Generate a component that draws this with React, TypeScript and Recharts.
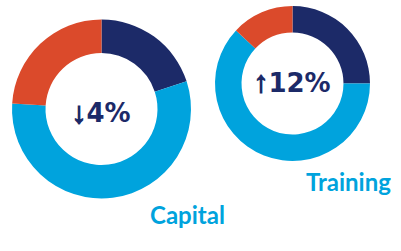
import { PieChart, Pie, Cell, Customized } from 'recharts'

const capitalShares = [20, 56, 24]
const trainingShares = [25, 62, 13]
const sliceNames = ['Navy', 'Blue', 'Red']
const COLORS = ['#1C2A68', '#00A3DD', '#DB4A2B']

const capitalChange = { arrow: '↓', value: '4%', label: 'Capital' }
const trainingChange = { arrow: '↑', value: '12%', label: 'Training' }

const NAVY = '#1C2A68'
const BLUE = '#00A3DD'

const capitalData = sliceNames.map((name, i) => ({ name, value: capitalShares[i] }))
const trainingData = sliceNames.map((name, i) => ({ name, value: trainingShares[i] }))

function Texts() {
  return (
    <g>
      <text x={101} y={122} textAnchor="middle" fill={NAVY} fontFamily="'DejaVu Sans', sans-serif" fontWeight={700} fontSize={26}>
        <tspan fontFamily="'Liberation Sans', sans-serif" fontSize={30} stroke={NAVY} strokeWidth={1.3} dy={1}>
          {capitalChange.arrow}
        </tspan>
        <tspan dy={-1}>{capitalChange.value}</tspan>
      </text>
      <text x={292} y={92} textAnchor="middle" fill={NAVY} fontFamily="'DejaVu Sans', sans-serif" fontWeight={700} fontSize={26}>
        <tspan fontFamily="'Liberation Sans', sans-serif" fontSize={30} stroke={NAVY} strokeWidth={1.3}>
          {trainingChange.arrow}
        </tspan>
        <tspan>{trainingChange.value}</tspan>
      </text>
      <text x={150} y={224} fill={BLUE} fontFamily="Lato, sans-serif" fontWeight={700} fontSize={24}>
        {capitalChange.label}
      </text>
      <text x={306} y={191} fill={BLUE} fontFamily="Lato, sans-serif" fontWeight={700} fontSize={24}>
        {trainingChange.label}
      </text>
    </g>
  )
}

export default function App() {
  return (
    <div style={{ position: 'absolute', left: 0, top: 0, width: 401, height: 251, background: '#fff' }}>
      <PieChart width={401} height={251} margin={{ top: 0, right: 0, bottom: 0, left: 0 }}>
        <Pie
          data={capitalData}
          dataKey="value"
          cx={101.5}
          cy={109}
          innerRadius={56}
          outerRadius={89.5}
          startAngle={90}
          endAngle={-270}
          stroke="none"
          isAnimationActive={false}
        >
          {capitalData.map((d, i) => (
            <Cell key={d.name} fill={COLORS[i]} />
          ))}
        </Pie>
        <Pie
          data={trainingData}
          dataKey="value"
          cx={292.5}
          cy={83.5}
          innerRadius={51}
          outerRadius={77.5}
          startAngle={90}
          endAngle={-270}
          stroke="none"
          isAnimationActive={false}
        >
          {trainingData.map((d, i) => (
            <Cell key={d.name} fill={COLORS[i]} />
          ))}
        </Pie>
        <Customized component={Texts} />
      </PieChart>
    </div>
  )
}
